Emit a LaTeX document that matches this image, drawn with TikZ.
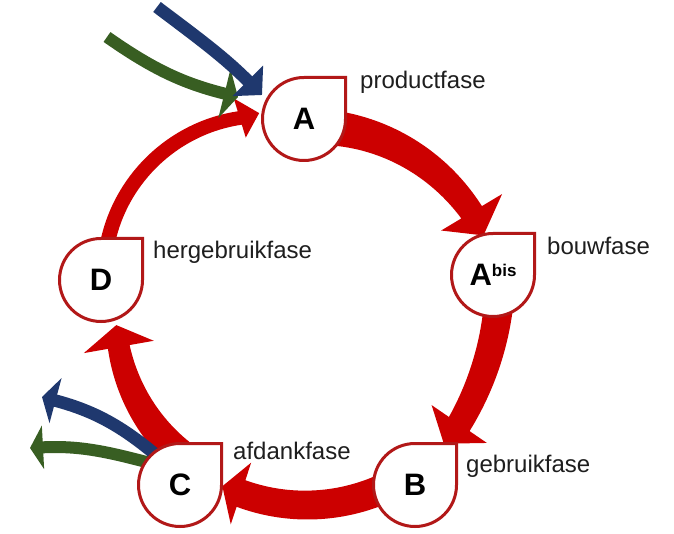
\documentclass[tikz,border=0pt]{standalone}
\usepackage{fontspec}
\setmainfont{Liberation Sans}
\usetikzlibrary{arrows.meta}
\definecolor{arrred}{RGB}{204,0,0}
\definecolor{nodered}{RGB}{178,24,24}
\definecolor{inblue}{RGB}{31,56,110}
\definecolor{ingreen}{RGB}{56,94,34}
\definecolor{labelgray}{RGB}{30,30,30}
\newcommand{\cxx}{300}
\newcommand{\cyy}{218}
\newcommand{\redarr}[9]{%
 \def\aA{#1}\def\aB{#2}\def\rA{#3}\def\rB{#4}\def\kB{#5}\def\wA{#6}\def\wB{#7}\def\hW{#8}\def\hL{#9}%
 \pgfmathsetmacro{\tipang}{\aB+sign(\aB-(\aA))*\hL/\rB*57.2958}%
 \fill[arrowfill]
   plot[domain=\aA:\aB,samples=50,variable=\t] ({\cxx+(rr(\t)+ww(\t)/2)*cos(\t)},{\cyy+(rr(\t)+ww(\t)/2)*sin(\t)})
   -- ({\cxx+(\rB+\hW/2)*cos(\aB)},{\cyy+(\rB+\hW/2)*sin(\aB)})
   -- ({\cxx+\rB*cos(\tipang)},{\cyy+\rB*sin(\tipang)})
   -- ({\cxx+(\rB-\hW/2)*cos(\aB)},{\cyy+(\rB-\hW/2)*sin(\aB)})
   -- plot[domain=\aB:\aA,samples=50,variable=\t] ({\cxx+(rr(\t)-ww(\t)/2)*cos(\t)},{\cyy+(rr(\t)-ww(\t)/2)*sin(\t)})
   -- cycle;%
}
\newcommand{\tear}[2]{\draw[teardrop] (#1,#2) ++(0,41.5) -- ++(41.5,0) -- ++(0,-41.5) arc[start angle=0,end angle=-270,radius=41.5pt] -- cycle;}
\begin{document}
\begin{tikzpicture}[x=1pt,y=1pt,
  declare function={ss(\t)=(\t-(\aA))/((\aB)-(\aA));
                     rr(\t)=\rA+(\rB-\rA)*ss(\t)+4*\kB*ss(\t)*(1-ss(\t));
                     ww(\t)=\wA+(\wB-\wA)*ss(\t);},
  arrowfill/.style={fill=arrred},
  teardrop/.style={draw=nodered,line width=3pt,fill=white,line join=miter},
  letter/.style={inner sep=0pt,font=\fontsize{31}{36}\selectfont\bfseries,text=black},
  lbl/.style={anchor=base west,inner sep=0pt,font=\fontsize{24}{28}\selectfont,text=labelgray},
  gline/.style={draw=ingreen,line width=12pt},
  bline/.style={draw=inblue,line width=12.5pt}]
\useasboundingbox (0,0) rectangle (674,533);
\fill[white] (0,0) rectangle (674,533);
% red cycle arrows
\redarr{84}{30.9}{189}{200}{0}{36}{24}{71}{26}
\redarr{5}{-34.4}{200}{193}{-4}{30}{25}{67}{25}
\redarr{-62}{-108.3}{193}{188}{0}{30}{28}{65}{20}
\redarr{-128}{-170}{184}{184}{0}{32}{22}{71}{22}
\redarr{162}{107}{204}{206}{8}{15}{14}{41}{20}
% incoming and outgoing flows
\coordinate (gin0) at (107,496); \coordinate (gin1) at (238,436);
\coordinate (bin0) at (157,526); \coordinate (bin1) at (262,438);
\coordinate (bout0) at (156,78); \coordinate (bout1) at (42,136);
\coordinate (gout0) at (150,70); \coordinate (gout1) at (30,85);
\draw[gline,-{Triangle[length=14pt,width=50pt]}] (gin0) to[out=-35,in=166] (gin1);
\draw[bline,-{Triangle[length=20pt,width=42pt]}] (bin0) to[out=-37,in=135] (bin1);
\draw[gline,-{Triangle[length=13pt,width=43pt]}] (gout0) to[out=165,in=3] (gout1);
\draw[bline,-{Triangle[length=14pt,width=46pt]}] (bout0) to[out=140,in=-15] (bout1);
% phase nodes
\tear{304}{414}\node[letter] (A) at (304,414) {A};
\tear{493}{258}\node[letter] (Abis) at (493,258) {A\raisebox{9.5pt}{\fontsize{17}{17}\selectfont bis}};
\tear{415}{48}\node[letter] (B) at (415,48) {B};
\tear{180}{48}\node[letter] (C) at (180,48) {C};
\tear{101}{253}\node[letter] (D) at (101,253) {D};
% labels
\node[lbl] (lA) at (360,444) {productfase};
\node[lbl] (lAb) at (547,278) {bouwfase};
\node[lbl] (lD) at (153,274) {hergebruikfase};
\node[lbl] (lB) at (466,61) {gebruikfase};
\node[lbl] (lC) at (233,74) {afdankfase};
\end{tikzpicture}
\end{document}
